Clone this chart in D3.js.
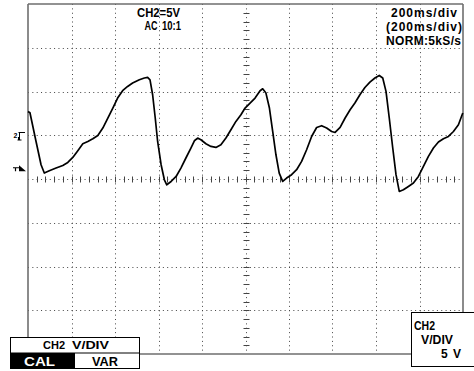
<!DOCTYPE html>
<html><head><meta charset="utf-8">
<script src="https://cdn.jsdelivr.net/npm/d3@7"></script>
<style>
body{margin:0;background:#fff}
svg{display:block}
text{font-family:"Liberation Sans",Arial,sans-serif;font-weight:bold;fill:#000}
</style>
</head><body>
<svg id="c" width="474" height="371"></svg>
<script>
// ---- data (ms, volts) ----
const timeMs = [0,9,37,60,75,98,129,160,183,206,229,252,275,298,321,344,367,390,412,435,458,481,512,535,550,561,573,585,596,612,627,638,658,681,703,726,749,765,780,795,818,841,864,887,910,933,956,979,998,1021,1044,1067,1079,1094,1110,1125,1140,1155,1171,1189,1212,1235,1258,1281,1304,1327,1350,1373,1396,1412,1435,1458,1481,1503,1526,1549,1572,1595,1615,1631,1646,1661,1677,1692,1707,1726,1749,1772,1795,1818,1841,1864,1887,1910,1933,1956,1979,1999];
const volts  = [2.72,2.57,-0.71,-3.37,-4.32,-4.06,-3.75,-3.45,-3.11,-2.54,-1.77,-0.97,-0.71,-0.40,-0.02,0.82,1.97,3.11,4.25,5.09,5.58,5.97,6.34,6.54,6.61,6.34,4.63,1.97,-0.71,-3.37,-5.09,-5.66,-5.28,-4.71,-3.75,-2.60,-1.46,-0.63,-0.32,-0.51,-0.97,-1.28,-1.39,-1.09,-0.32,0.63,1.58,2.34,3.11,3.68,4.25,5.09,5.31,4.82,3.11,0.43,-2.23,-4.32,-5.28,-4.89,-4.51,-3.94,-2.99,-1.66,-0.14,0.89,1.09,0.82,0.43,0.32,0.89,1.97,2.91,3.68,4.63,5.46,6.08,6.54,6.83,6.54,5.01,1.97,-1.46,-4.51,-6.42,-6.23,-5.85,-5.46,-4.71,-3.57,-2.42,-1.46,-0.78,-0.40,-0.14,0.43,1.20,2.54];
const timeGrid = [0,200,400,600,800,1000,1200,1400,1600,1800,2000];
const voltGrid = [15,10,5,0,-5,-10,-15,-20,-25];
const timeMinor = [40,80,120,160,200,240,280,320,360,400,440,480,520,560,600,640,680,720,760,800,840,880,920,960,1000,1040,1080,1120,1160,1200,1240,1280,1320,1360,1400,1440,1480,1520,1560,1600,1640,1680,1720,1760,1800,1840,1880,1920,1960];
const voltMinor = [14,13,12,11,10,9,8,7,6,5,4,3,2,1,0,-1,-2,-3,-4,-5,-6,-7,-8,-9,-10,-11,-12,-13,-14,-15,-16,-17,-18,-19,-20,-21,-22,-23,-24];
const headerLeft = ["CH2=5V", "AC", "10:1"];
const headerRight = ["200ms/div", "(200ms/div)", "NORM:5kS/s"];
const menuLeft = ["CH2", "V/DIV", "CAL", "VAR"];
const menuRight = ["CH2", "V/DIV", "5", "V"];
const groundLabel = "2";
const trigLabel = "1";
const groundVolt = 0;
const trigVolt = -4.0;

// ---- scales ----
const x = d3.scaleLinear().domain([0, 2000]).range([28, 463]);
const y = d3.scaleLinear().domain([-25, 15]).range([354, 4]);
const svg = d3.select("#c");

// grid (dotted)
const g = svg.append("g");
g.selectAll("line.vg").data(timeGrid.slice(1, -1)).join("line")
  .attr("x1", d => Math.round(x(d)) + 0.5).attr("x2", d => Math.round(x(d)) + 0.5)
  .attr("y1", y(15)).attr("y2", y(-25))
  .attr("stroke", "#444").attr("stroke-width", 1).attr("stroke-dasharray", "1 3.375");
g.selectAll("line.hg").data(voltGrid.slice(1, -1)).join("line")
  .attr("y1", d => Math.round(y(d)) + 0.5).attr("y2", d => Math.round(y(d)) + 0.5)
  .attr("x1", x(0)).attr("x2", x(2000))
  .attr("stroke", "#444").attr("stroke-width", 1).attr("stroke-dasharray", "1 3.35");

// center axes minor ticks
const cx = Math.round(x(1000)) + 0.5, cy = Math.round(y(-5)) + 0.5;
g.selectAll("line.tx").data(timeMinor).join("line")
  .attr("x1", d => Math.round(x(d)) + 0.5).attr("x2", d => Math.round(x(d)) + 0.5)
  .attr("y1", cy - 3).attr("y2", cy + 3).attr("stroke", "#444");
g.selectAll("line.ty").data(voltMinor).join("line")
  .attr("y1", d => Math.round(y(d)) + 0.5).attr("y2", d => Math.round(y(d)) + 0.5)
  .attr("x1", cx - 3).attr("x2", cx + 3).attr("stroke", "#444");

// border
const bc = "#6e6e6e";
const border = svg.append("g").attr("stroke", bc).attr("stroke-width", 1.6).attr("fill", "none");
border.append("line").attr("x1", x(0)).attr("x2", x(2000)).attr("y1", y(15)).attr("y2", y(15));
border.append("line").attr("x1", x(0)).attr("x2", x(0)).attr("y1", y(15)).attr("y2", 337);
border.append("line").attr("x1", x(2000)).attr("x2", x(2000)).attr("y1", y(15)).attr("y2", 312);
border.append("line").attr("x1", 140).attr("x2", 411).attr("y1", y(-25)).attr("y2", y(-25));

// trace
const line = d3.line().x(d => x(d[0])).y(d => y(d[1]));
svg.append("path").datum(timeMs.map((t, i) => [t, volts[i]]))
  .attr("d", line).attr("fill", "none").attr("stroke", "#000")
  .attr("stroke-width", 1.7).attr("stroke-linejoin", "round");

// header texts
const t1 = svg.append("g");
t1.append("text").attr("x", 137).attr("y", 17).attr("font-size", 12).attr("textLength", 43).attr("lengthAdjust", "spacingAndGlyphs").text(headerLeft[0]);
t1.append("text").attr("x", 144.5).attr("y", 29.5).attr("font-size", 12).attr("textLength", 13).attr("lengthAdjust", "spacingAndGlyphs").text(headerLeft[1]);
t1.append("text").attr("x", 162).attr("y", 29.5).attr("font-size", 12).attr("textLength", 19).attr("lengthAdjust", "spacingAndGlyphs").text(headerLeft[2]);
t1.append("text").attr("x", 391).attr("y", 17).attr("font-size", 12).attr("textLength", 66).attr("lengthAdjust", "spacing").text(headerRight[0]);
t1.append("text").attr("x", 386).attr("y", 31).attr("font-size", 12).attr("textLength", 76).attr("lengthAdjust", "spacing").text(headerRight[1]);
t1.append("text").attr("x", 386).attr("y", 45).attr("font-size", 12).attr("textLength", 75).attr("lengthAdjust", "spacing").text(headerRight[2]);

// ground & trigger markers
const gy = Math.round(y(groundVolt));
t1.append("text").attr("x", 13.5).attr("y", gy + 3).attr("font-size", 7).text(groundLabel);
svg.append("path").attr("d", `M18.5,${gy-2.5}H25M19.5,${gy-2.5}V${gy+5}M17.5,${gy+5}H21.5M18.5,${gy+2}V${gy+5}`)
  .attr("stroke", "#000").attr("stroke-width", 1).attr("fill", "none");
const ty = y(trigVolt);
svg.append("path").attr("d", `M13,${ty-2.5}H19M15.5,${ty-2.5}V${ty+1}`).attr("stroke", "#000").attr("stroke-width", 1.2);
svg.append("path").attr("d", `M19,${ty-5}L26,${ty+1}L19,${ty+1}Z`).attr("fill", "#000");

// bottom-left menu
const ml = svg.append("g");
ml.append("rect").attr("x", 10.5).attr("y", 337.5).attr("width", 129).attr("height", 31).attr("fill", "#fff").attr("stroke", "#000").attr("stroke-width", 1);
ml.append("line").attr("x1", 10.5).attr("x2", 139.5).attr("y1", 353).attr("y2", 353).attr("stroke", "#000");
ml.append("rect").attr("x", 10).attr("y", 353).attr("width", 65).attr("height", 16).attr("fill", "#000");
ml.append("text").attr("x", 43).attr("y", 349).attr("font-size", 11.5).attr("textLength", 22).attr("lengthAdjust", "spacingAndGlyphs").text(menuLeft[0]);
ml.append("text").attr("x", 72).attr("y", 349).attr("font-size", 11.5).attr("textLength", 37).attr("lengthAdjust", "spacingAndGlyphs").text(menuLeft[1]);
ml.append("text").attr("x", 24).attr("y", 365.5).attr("font-size", 13).attr("textLength", 31).attr("lengthAdjust", "spacingAndGlyphs").style("fill", "#fff").text(menuLeft[2]);
ml.append("text").attr("x", 92).attr("y", 365.5).attr("font-size", 13).attr("textLength", 26).attr("lengthAdjust", "spacingAndGlyphs").text(menuLeft[3]);

// bottom-right menu
const mr = svg.append("g");
mr.append("rect").attr("x", 411.5).attr("y", 312.5).attr("width", 70).attr("height", 54).attr("fill", "#fff").attr("stroke", "#000").attr("stroke-width", 1);
mr.append("text").attr("x", 414).attr("y", 329.5).attr("font-size", 12).attr("font-weight", "normal").attr("textLength", 21).attr("lengthAdjust", "spacingAndGlyphs").text(menuRight[0]);
mr.append("text").attr("x", 421).attr("y", 343.5).attr("font-size", 12).attr("textLength", 32).attr("lengthAdjust", "spacingAndGlyphs").text(menuRight[1]);
mr.append("text").attr("x", 441).attr("y", 357.5).attr("font-size", 12).text(menuRight[2]);
mr.append("text").attr("x", 453).attr("y", 357.5).attr("font-size", 12).text(menuRight[3]);
</script>
</body></html>
